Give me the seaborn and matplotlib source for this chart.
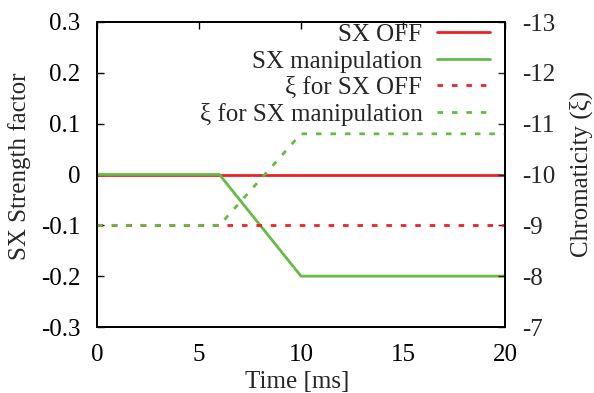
import numpy as np
import pandas as pd
import matplotlib
matplotlib.use("Agg")
import matplotlib.pyplot as plt
import seaborn as sns

time = [0, 6, 10, 20]
sx_off = [0.0, 0.0, 0.0, 0.0]
sx_manip = [0.0, 0.0, -0.2, -0.2]
xi_off = [-9.0, -9.0, -9.0, -9.0]
xi_manip = [-9.0, -9.0, -10.8, -10.8]

left_ticks = [-0.3, -0.2, -0.1, 0, 0.1, 0.2, 0.3]
left_labels = ["-0.3", "-0.2", "-0.1", "0", "0.1", "0.2", "0.3"]
right_ticks = [-13, -12, -11, -10, -9, -8, -7]
right_labels = ["-13", "-12", "-11", "-10", "-9", "-8", "-7"]
x_ticks = [0, 5, 10, 15, 20]

RED = "#ee2222"
GREEN = "#66bb44"

sns.set_style("white")
plt.rcParams["font.family"] = ["Liberation Serif", "DejaVu Serif"]
plt.rcParams["axes.unicode_minus"] = False

fig = plt.figure(figsize=(5.94, 3.93), dpi=100)
ax = fig.add_axes([97/594, 1-327/393, (505-97)/594, (327-22)/393])
ax2 = ax.twinx()

df = pd.DataFrame({"t": time, "off": sx_off, "man": sx_manip,
                   "xoff": xi_off, "xman": xi_manip})

sns.lineplot(data=df, x="t", y="off", ax=ax, color=RED, lw=2, label="SX OFF", legend=False)
sns.lineplot(data=df, x="t", y="man", ax=ax, color=GREEN, lw=2, label="SX manipulation", legend=False)
sns.lineplot(data=df, x="t", y="xoff", ax=ax2, color=RED, lw=2, dashes=(2, 3.2), label="ξ for SX OFF", legend=False)
sns.lineplot(data=df, x="t", y="xman", ax=ax2, color=GREEN, lw=2, dashes=(2, 3.2), label="ξ for SX manipulation", legend=False)

fs = 18
ax.set_xlim(0, 20)
ax.set_ylim(-0.3, 0.3)
ax2.set_ylim(-7, -13)
ax.set_xticks(x_ticks)
ax.set_yticks(left_ticks)
ax.set_yticklabels(left_labels)
ax2.set_yticks(right_ticks)
ax2.set_yticklabels(right_labels)
ax.tick_params(axis="both", direction="in", length=5, width=1, labelsize=fs, top=True, pad=12, colors="black")
ax.tick_params(axis="x", pad=12)
ax.tick_params(axis="y", right=False)
ax2.tick_params(axis="y", direction="in", length=5, width=1, labelsize=fs, pad=12)
for a in (ax, ax2):
    for s in a.spines.values():
        s.set_linewidth(1.3)
        s.set_color("black")

ax.set_xlabel("Time [ms]", fontsize=18)
ax.set_ylabel("SX Strength factor", fontsize=fs)
ax2.set_ylabel("Chromaticity (ξ)", fontsize=fs)
ax.xaxis.label.set_va("top")
ax.xaxis.set_label_coords((297 - 97) / 408, (327 - 371) / 305)
ax.yaxis.label.set_va("center")
ax.yaxis.set_label_coords((20 - 97) / 408, (327 - 166) / 305)
ax2.yaxis.label.set_va("center")
ax2.yaxis.set_label_coords((581 - 97) / 408, (327 - 174) / 305)

h1, l1 = ax.get_legend_handles_labels()
h2, l2 = ax2.get_legend_handles_labels()
leg = ax2.legend(h1 + h2, l1 + l2, loc="upper right", frameon=False, markerfirst=False,
                 fontsize=fs, handlelength=2.1, handletextpad=0.6, labelspacing=0.16,
                 borderaxespad=0.0, borderpad=0.0, bbox_to_anchor=(0.963, 0.995))

fig.savefig("out.png", dpi=100)
